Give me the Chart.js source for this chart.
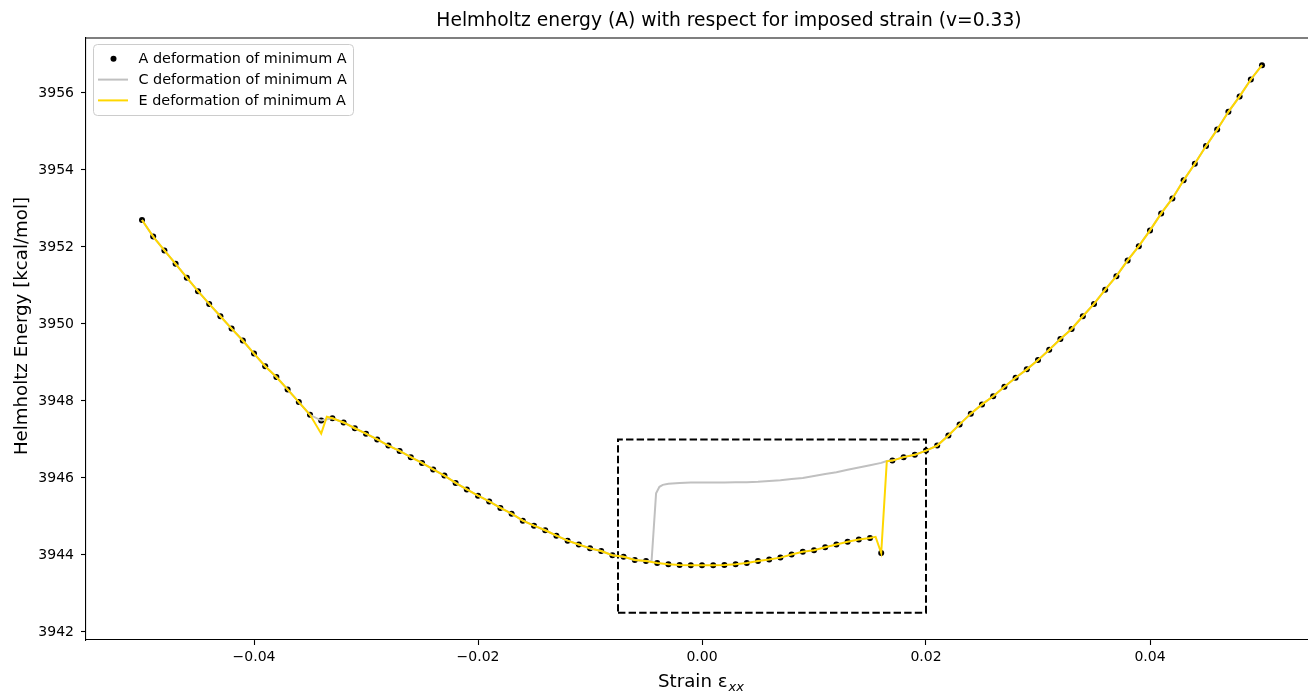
<!DOCTYPE html>
<html>
<head>
<meta charset="utf-8">
<script src="https://cdn.jsdelivr.net/npm/chart.js@4.4.1/dist/chart.umd.min.js"></script>
<style>
html,body{margin:0;padding:0;background:#fff;overflow:hidden;}
#wrap{position:absolute;left:0;top:0;width:1330px;height:693px;}
</style>
</head>
<body>
<div id="wrap"><canvas id="c" width="1330" height="693"></canvas></div>
<script>
// ---- data ----
const titleText = "Helmholtz energy (A) with respect for imposed strain (v=0.33)";
const xLabelMain = "Strain \u03b5";
const xLabelSub = "xx";
const yLabel = "Helmholtz Energy [kcal/mol]";
const legendLabels = ["A deformation of minimum A", "C deformation of minimum A", "E deformation of minimum A"];
const xTicks = [-0.04, -0.02, 0.00, 0.02, 0.04];
const yTicks = [3942, 3944, 3946, 3948, 3950, 3952, 3954, 3956];

// strain grid -0.050 ... 0.050 (step 0.001)
const strain = [];
for (let i = -50; i <= 50; i++) strain.push(i / 1000);

// A: energy at minimum-A deformation
const energyA = [
  3952.70, 3952.27, 3951.91, 3951.56, 3951.20, 3950.85, 3950.52, 3950.20, 3949.88, 3949.57, // -0.050..-0.041
  3949.23, 3948.90, 3948.62, 3948.30, 3947.97, 3947.64, 3947.49, 3947.55, 3947.44, 3947.29, // -0.040..-0.031
  3947.15, 3947.00, 3946.84, 3946.70, 3946.54, 3946.39, 3946.22, 3946.06, 3945.87, 3945.70, // -0.030..-0.021
  3945.54, 3945.39, 3945.22, 3945.07, 3944.89, 3944.76, 3944.64, 3944.50, 3944.37, 3944.27, // -0.020..-0.011
  3944.17, 3944.10, 3943.99, 3943.95, 3943.87, 3943.84, 3943.79, 3943.76, 3943.74, 3943.73, // -0.010..-0.001
  3943.73,                                                                                 // 0.000
  3943.73, 3943.74, 3943.76, 3943.79, 3943.84, 3943.88, 3943.93, 3944.01, 3944.08, 3944.12, // 0.001..0.010
  3944.20, 3944.27, 3944.34, 3944.40, 3944.44, 3944.05, 3946.45, 3946.54, 3946.60, 3946.71, // 0.011..0.020
  3946.84, 3947.10, 3947.39, 3947.67, 3947.91, 3948.12, 3948.37, 3948.60, 3948.82, 3949.06, // 0.021..0.030
  3949.33, 3949.61, 3949.87, 3950.20, 3950.52, 3950.89, 3951.24, 3951.65, 3952.02, 3952.43, // 0.031..0.040
  3952.87, 3953.26, 3953.73, 3954.16, 3954.62, 3955.05, 3955.51, 3955.91, 3956.35, 3956.72  // 0.041..0.050
];

// C: upper branch inside the boxed region
const cBranchStrain = [-0.0045, -0.0041, -0.0038, -0.0035, -0.003, -0.002, -0.001, 0.000, 0.001, 0.002, 0.003, 0.004, 0.005,
  0.006, 0.007, 0.008, 0.009, 0.010, 0.011, 0.012, 0.013, 0.014, 0.015, 0.016, 0.0165];
const cBranchEnergy = [3943.85, 3945.60, 3945.77, 3945.82, 3945.85, 3945.87, 3945.88, 3945.88, 3945.88, 3945.88, 3945.89, 3945.89, 3945.90,
  3945.92, 3945.94, 3945.97, 3946.00, 3946.05, 3946.10, 3946.15, 3946.21, 3946.27, 3946.33, 3946.39, 3946.44];

// E: differences from A
const eFixStrain = [-0.034, -0.0335, 0.0155, 0.0165];
const eFixEnergy = [3947.15, 3947.59, 3944.47, 3946.43];

// dashed region
const boxStrain = [-0.0075, 0.020, 0.020, -0.0075, -0.0075];
const boxEnergy = [3942.5, 3942.5, 3947.0, 3947.0, 3942.5];

// ---- build datasets ----
const ptsA = strain.map((x, i) => ({x: x, y: energyA[i]}));
const ptsC = ptsA.filter(p => p.x < -0.0045 - 1e-9 || p.x > 0.0165 + 1e-9)
  .concat(cBranchStrain.map((x, i) => ({x: x, y: cBranchEnergy[i]})))
  .sort((a, b) => a.x - b.x);
const ptsE = ptsA.filter(p => !eFixStrain.some(s => Math.abs(s - p.x) < 1e-9))
  .concat(eFixStrain.map((x, i) => ({x: x, y: eFixEnergy[i]})))
  .sort((a, b) => a.x - b.x);
const ptsBox = boxStrain.map((x, i) => ({x: x, y: boxEnergy[i]}));

const FONT = "'DejaVu Sans', sans-serif";
const COLS = {A: '#000000', C: '#c0c0c0', E: '#ffd700'};

const extras = {
  id: 'extras',
  afterDraw(chart) {
    const ctx = chart.ctx, ca = chart.chartArea;
    ctx.save();
    // top spine
    ctx.strokeStyle = '#000'; ctx.lineWidth = 1.1;
    ctx.beginPath(); ctx.moveTo(ca.left, ca.top + 0.5); ctx.lineTo(ca.right, ca.top + 0.5); ctx.stroke();
    ctx.beginPath(); ctx.moveTo(ca.right, ca.top); ctx.lineTo(ca.right, ca.bottom); ctx.stroke();
    // title
    ctx.fillStyle = '#000';
    ctx.font = "18.7px " + FONT;
    ctx.textAlign = 'center'; ctx.textBaseline = 'middle';
    ctx.fillText(titleText, 729, 21);
    // y axis label
    ctx.save();
    ctx.translate(22, 326);
    ctx.rotate(-Math.PI / 2);
    ctx.font = "18.2px " + FONT;
    ctx.fillText(yLabel, 0, 0);
    ctx.restore();
    // x axis label with subscript
    ctx.textAlign = 'left'; ctx.textBaseline = 'alphabetic';
    ctx.font = "18.2px " + FONT;
    const wMain = ctx.measureText(xLabelMain).width;
    ctx.font = "italic 13px " + FONT;
    const wSub = ctx.measureText(xLabelSub).width;
    const x0 = 701 - (wMain + wSub + 1) / 2;
    ctx.font = "18.2px " + FONT;
    ctx.fillText(xLabelMain, x0, 687);
    ctx.font = "italic 13px " + FONT;
    ctx.fillText(xLabelSub, x0 + wMain + 1, 691);
    // legend
    const lx = 93.5, ly = 44.5, lw = 260, lh = 71, r = 4;
    ctx.fillStyle = 'rgba(255,255,255,0.8)';
    ctx.strokeStyle = '#cccccc'; ctx.lineWidth = 1;
    ctx.beginPath();
    ctx.moveTo(lx + r, ly); ctx.lineTo(lx + lw - r, ly); ctx.arcTo(lx + lw, ly, lx + lw, ly + r, r);
    ctx.lineTo(lx + lw, ly + lh - r); ctx.arcTo(lx + lw, ly + lh, lx + lw - r, ly + lh, r);
    ctx.lineTo(lx + r, ly + lh); ctx.arcTo(lx, ly + lh, lx, ly + lh - r, r);
    ctx.lineTo(lx, ly + r); ctx.arcTo(lx, ly, lx + r, ly, r);
    ctx.closePath(); ctx.fill(); ctx.stroke();
    const rows = [58.7, 79.6, 100.4];
    ctx.font = "14.4px " + FONT; ctx.textAlign = 'left'; ctx.textBaseline = 'middle';
    ctx.fillStyle = COLS.A;
    ctx.beginPath(); ctx.arc(113.5, rows[0], 3, 0, Math.PI * 2); ctx.fill();
    ctx.strokeStyle = COLS.C; ctx.lineWidth = 2;
    ctx.beginPath(); ctx.moveTo(98, rows[1]); ctx.lineTo(128, rows[1]); ctx.stroke();
    ctx.strokeStyle = COLS.E;
    ctx.beginPath(); ctx.moveTo(98, rows[2]); ctx.lineTo(128, rows[2]); ctx.stroke();
    ctx.fillStyle = '#000';
    legendLabels.forEach((t, i) => ctx.fillText(t, 138.5, rows[i] + 0.5));
    ctx.restore();
  }
};

new Chart(document.getElementById('c'), {
  type: 'scatter',
  data: {
    datasets: [
      {label: 'box', data: ptsBox, showLine: true, borderColor: '#000', borderWidth: 2, borderDash: [7.4, 3.2],
       pointRadius: 0, fill: false, tension: 0, order: 5},
      {label: legendLabels[0], data: ptsA, showLine: false, pointRadius: 3, pointBackgroundColor: COLS.A,
       pointBorderWidth: 0, order: 4},
      {label: legendLabels[1], data: ptsC, showLine: true, borderColor: COLS.C, borderWidth: 2, pointRadius: 0,
       tension: 0, order: 3},
      {label: legendLabels[2], data: ptsE, showLine: true, borderColor: COLS.E, borderWidth: 2, pointRadius: 0,
       tension: 0, order: 2}
    ]
  },
  options: {
    responsive: false,
    animation: false,
    events: [],
    layout: {padding: {top: 37.5, left: 0, right: 12, bottom: 0}},
    plugins: {legend: {display: false}, tooltip: {enabled: false}, title: {display: false}},
    scales: {
      x: {
        type: 'linear', min: -0.055, max: 0.055,
        afterBuildTicks(s) { s.ticks = xTicks.map(v => ({value: v})); },
        afterFit(s) { s.height = 53; },
        grid: {drawOnChartArea: false, drawTicks: true, tickLength: 5, color: '#000', tickWidth: 1.1},
        border: {display: true, color: '#000', width: 1.1},
        ticks: {color: '#000', font: {family: FONT, size: 14}, padding: 4, maxRotation: 0,
          callback: v => (v < 0 ? '\u2212' : '') + Math.abs(v).toFixed(2)},
        title: {display: false}
      },
      y: {
        type: 'linear', min: 3941.79, max: 3957.44,
        afterBuildTicks(s) { s.ticks = yTicks.map(v => ({value: v})); },
        afterFit(s) { s.width = 86; },
        grid: {drawOnChartArea: false, drawTicks: true, tickLength: 5, color: '#000', tickWidth: 1.1},
        border: {display: true, color: '#000', width: 1.1},
        ticks: {color: '#000', font: {family: FONT, size: 14}, padding: 7, callback: v => String(v)},
        title: {display: false}
      }
    }
  },
  plugins: [extras]
});
</script>
</body>
</html>
